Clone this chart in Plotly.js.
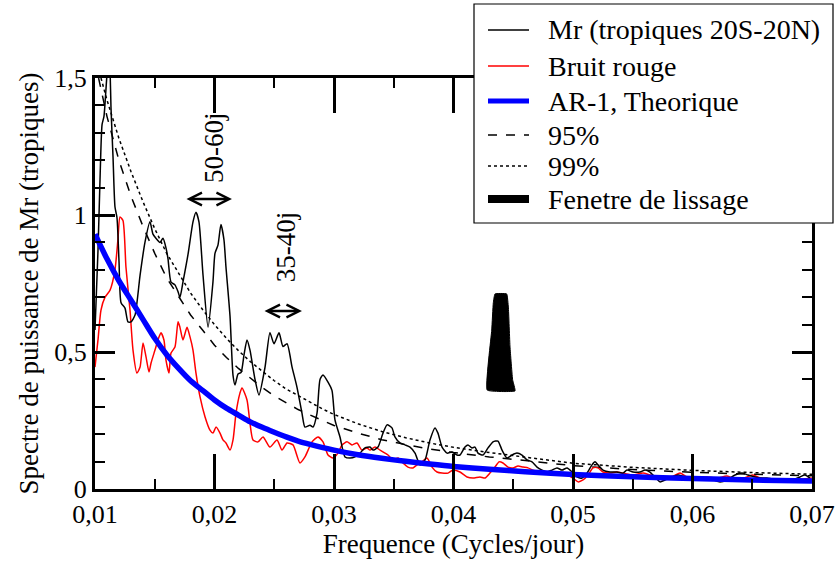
<!DOCTYPE html>
<html><head><meta charset="utf-8">
<script src="https://cdn.plot.ly/plotly-3.0.1.min.js"></script>
<style>html,body{margin:0;padding:0;background:#fff}#c{width:838px;height:564px}</style>
</head><body><div id="c"></div>
<script>
// Mr (tropiques 20S-20N)
const freqMr = [
0.01000,0.01025,0.01042,0.01059,0.01075,0.01092,0.01109,0.01117,0.01126,0.01134,
0.01151,0.01167,0.01184,0.01201,0.01218,0.01251,0.01276,0.01301,0.01335,0.01377,
0.01418,0.01460,0.01485,0.01510,0.01544,0.01569,0.01594,0.01611,0.01636,0.01669,
0.01695,0.01711,0.01736,0.01778,0.01820,0.01845,0.01870,0.01904,0.01946,0.01987,
0.02004,0.02029,0.02054,0.02079,0.02096,0.02130,0.02155,0.02172,0.02197,0.02222,
0.02247,0.02272,0.02297,0.02339,0.02372,0.02423,0.02464,0.02498,0.02540,0.02573,
0.02607,0.02649,0.02690,0.02732,0.02757,0.02799,0.02824,0.02858,0.02883,0.02908,
0.02950,0.02983,0.03008,0.03050,0.03092,0.03134,0.03176,0.03218,0.03259,0.03301,
0.03326,0.03368,0.03410,0.03444,0.03485,0.03510,0.03552,0.03594,0.03636,0.03678,
0.03720,0.03762,0.03803,0.03845,0.03870,0.03904,0.03946,0.03987,0.04029,0.04054,
0.04096,0.04121,0.04155,0.04180,0.04205,0.04247,0.04289,0.04331,0.04372,0.04406,
0.04448,0.04490,0.04531,0.04573,0.04615,0.04657,0.04699,0.04741,0.04782,0.04824,
0.04866,0.04908,0.04950,0.04992,0.05033,0.05075,0.05117,0.05159,0.05184,0.05209,
0.05251,0.05310,0.05368,0.05418,0.05452,0.05502,0.05561,0.05603,0.05644,0.05686,
0.05728,0.05770,0.05828,0.05879,0.05937,0.05996,0.06063,0.06121,0.06172,0.06230,
0.06289,0.06356,0.06414,0.06464,0.06523,0.06565,0.06623,0.06674,0.06732,0.06791,
0.06841,0.06900,0.06941,0.06983];
const mr = [
0.58,0.87,1.13,1.33,1.36,1.46,1.57,1.60,1.53,1.39,
1.21,1.03,0.99,0.83,0.68,0.66,0.61,0.61,0.635,0.78,
0.90,0.975,0.93,0.915,0.90,0.915,0.88,0.84,0.755,0.745,
0.72,0.70,0.755,0.855,0.975,1.01,0.975,0.78,0.59,0.755,
0.86,0.89,0.965,0.91,0.81,0.63,0.415,0.38,0.42,0.425,
0.49,0.544,0.507,0.40,0.343,0.445,0.57,0.53,0.57,0.52,
0.53,0.445,0.372,0.277,0.226,0.233,0.226,0.277,0.40,0.416,
0.39,0.36,0.252,0.19,0.117,0.113,0.117,0.131,0.15,0.153,
0.142,0.153,0.204,0.234,0.223,0.19,0.168,0.161,0.153,0.131,
0.088,0.106,0.179,0.223,0.204,0.153,0.131,0.135,0.124,0.124,
0.153,0.161,0.15,0.153,0.131,0.124,0.15,0.172,0.175,0.142,
0.113,0.124,0.131,0.124,0.106,0.099,0.080,0.069,0.062,0.069,
0.077,0.069,0.077,0.062,0.044,0.040,0.058,0.088,0.099,0.088,
0.069,0.062,0.062,0.058,0.069,0.062,0.062,0.069,0.062,0.044,
0.026,0.033,0.044,0.051,0.044,0.044,0.040,0.040,0.033,0.026,
0.033,0.051,0.058,0.051,0.044,0.040,0.040,0.036,0.036,0.036,
0.033,0.044,0.051,0.040];

// Bruit rouge
const freqRed = [
0.01000,0.01025,0.01050,0.01084,0.01126,0.01167,0.01192,0.01209,0.01234,0.01259,
0.01293,0.01318,0.01351,0.01377,0.01402,0.01427,0.01452,0.01469,0.01502,0.01527,
0.01552,0.01577,0.01594,0.01619,0.01636,0.01669,0.01695,0.01711,0.01736,0.01770,
0.01795,0.01820,0.01845,0.01879,0.01921,0.01962,0.01987,0.02013,0.02046,0.02071,
0.02096,0.02130,0.02155,0.02180,0.02213,0.02230,0.02272,0.02297,0.02322,0.02364,
0.02406,0.02464,0.02523,0.02565,0.02607,0.02657,0.02715,0.02757,0.02816,0.02866,
0.02908,0.02950,0.02992,0.03033,0.03067,0.03109,0.03151,0.03192,0.03234,0.03276,
0.03301,0.03343,0.03385,0.03427,0.03452,0.03494,0.03536,0.03577,0.03619,0.03661,
0.03695,0.03736,0.03778,0.03820,0.03862,0.03904,0.03954,0.03996,0.04054,0.04113,
0.04163,0.04222,0.04264,0.04305,0.04347,0.04381,0.04414,0.04456,0.04498,0.04540,
0.04582,0.04623,0.04665,0.04724,0.04782,0.04833,0.04891,0.04950,0.05000,0.05042,
0.05084,0.05126,0.05167,0.05209,0.05251,0.05310,0.05368,0.05418,0.05502,0.05586,
0.05644,0.05728,0.05837,0.05895,0.05954,0.06038,0.06121,0.06205,0.06289,0.06372,
0.06456,0.06506,0.06565,0.06649,0.06757,0.06841,0.06925,0.07000];
const red = [
0.445,0.544,0.653,0.70,0.726,0.80,0.91,0.993,0.98,0.81,
0.653,0.507,0.423,0.445,0.533,0.482,0.427,0.46,0.507,0.544,
0.57,0.544,0.47,0.423,0.496,0.518,0.61,0.59,0.544,0.59,
0.555,0.507,0.423,0.336,0.263,0.215,0.204,0.226,0.204,0.179,
0.168,0.142,0.179,0.277,0.35,0.369,0.325,0.24,0.179,0.172,
0.19,0.153,0.179,0.142,0.168,0.161,0.095,0.117,0.172,0.19,
0.172,0.124,0.113,0.131,0.161,0.172,0.161,0.168,0.142,0.15,
0.142,0.153,0.142,0.131,0.124,0.106,0.113,0.095,0.08,0.077,
0.088,0.099,0.113,0.08,0.062,0.058,0.058,0.069,0.062,0.044,
0.04,0.044,0.04,0.058,0.08,0.099,0.095,0.08,0.077,0.084,
0.08,0.077,0.069,0.062,0.062,0.062,0.058,0.051,0.04,0.026,
0.033,0.051,0.077,0.077,0.062,0.058,0.062,0.058,0.051,0.058,
0.051,0.044,0.047,0.058,0.044,0.04,0.044,0.04,0.047,0.033,
0.044,0.051,0.04,0.033,0.033,0.036,0.036,0.04];

// AR-1, Theorique
const freqAR = [0.010,0.011,0.012,0.013,0.014,0.015,0.016,0.017,0.018,0.019,0.020,0.021,0.022,0.023,0.024,0.025,0.026,0.027,0.028,0.030,0.032,0.034,0.036,0.038,0.040,0.043,0.046,0.050,0.055,0.060,0.065,0.070];
const ar1 = [0.93,0.84,0.76,0.69,0.62,0.55,0.49,0.44,0.395,0.36,0.325,0.295,0.27,0.245,0.225,0.207,0.19,0.175,0.163,0.142,0.125,0.112,0.101,0.091,0.082,0.072,0.063,0.053,0.045,0.038,0.033,0.029];

// 95% and 99% levels
const freq95 = [0.0103,0.011,0.012,0.013,0.014,0.015,0.016,0.017,0.018,0.019,0.020,0.021,0.022,0.023,0.024,0.025,0.026,0.027,0.028,0.029,0.030,0.032,0.034,0.036,0.038,0.040,0.043,0.046,0.050,0.055,0.060,0.065,0.070];
const sig95 = [1.50,1.36,1.20,1.07,0.96,0.86,0.77,0.70,0.635,0.58,0.525,0.48,0.44,0.405,0.37,0.34,0.315,0.29,0.27,0.25,0.232,0.204,0.18,0.162,0.146,0.133,0.117,0.104,0.085,0.071,0.061,0.054,0.048];
const freq99 = [0.0105,0.011,0.012,0.013,0.014,0.015,0.016,0.017,0.018,0.019,0.020,0.021,0.022,0.023,0.024,0.025,0.026,0.027,0.028,0.029,0.030,0.032,0.034,0.036,0.038,0.040,0.043,0.046,0.050,0.055,0.060,0.065,0.070];
const sig99 = [1.50,1.42,1.28,1.16,1.05,0.95,0.86,0.785,0.715,0.655,0.60,0.55,0.505,0.465,0.43,0.395,0.365,0.34,0.315,0.293,0.272,0.238,0.21,0.187,0.168,0.152,0.133,0.117,0.094,0.079,0.068,0.060,0.054];

// Fenetre de lissage (window outline)
const winX = [0.04282,0.04320,0.04333,0.04347,0.04445,0.04459,0.04473,0.04495,0.04515,0.04282];
const winY = [0.361,0.580,0.679,0.712,0.712,0.664,0.518,0.398,0.358,0.361];

const legendLabels = ['Mr (tropiques 20S-20N)','Bruit rouge','AR-1, Theorique','95%','99%','Fenetre de lissage'];
const periodLabels = ['50-60j','35-40j'];
const periodBands = [[0.01753,0.02146,1.058],[0.02406,0.02732,0.65]];
const periodLabelPos = [[0.01996,1.245],[0.0260,0.883]];

const FONT = 'Liberation Serif';
const sm = {shape:'spline', smoothing:0.6};

const traces = [
  {x:freq99, y:sig99, mode:'lines', line:{color:'black', width:1.5, dash:'dot'}, hoverinfo:'skip'},
  {x:freq95, y:sig95, mode:'lines', line:{color:'black', width:1.5, dash:'dash'}, hoverinfo:'skip'},
  {x:freqRed, y:red, mode:'lines', line:Object.assign({color:'#ff0000', width:1.5}, sm)},
  {x:freqMr, y:mr, mode:'lines', line:Object.assign({color:'black', width:1.5}, sm)},
  {x:freqAR, y:ar1, mode:'lines', line:{color:'#0000ff', width:5.5, shape:'spline', smoothing:0.8}},
  {x:winX, y:winY, mode:'lines', fill:'toself', fillcolor:'black', line:{color:'black', width:1, shape:'spline', smoothing:0.3}}
];
traces.forEach(t => t.showlegend = false);

// legend drawn as box + samples + texts (pixel rows converted to paper coords)
const L = 95, T = 78, W = 717, H = 411;
const px = v => (v - L) / W, py = v => (T + H - v) / H;
const rowY = [30, 66, 101, 135, 166, 199];
const sampleStyles = [
  {color:'black', width:1.5},
  {color:'#ff0000', width:1.5},
  {color:'#0000ff', width:5},
  {color:'black', width:1.5, dash:'dash'},
  {color:'black', width:1.5, dash:'dot'},
  {color:'black', width:8}
];
const shapes = [{type:'rect', xref:'paper', yref:'paper', x0:px(474), x1:px(833), y0:py(223), y1:py(4),
  line:{color:'black', width:1.2}, fillcolor:'white', layer:'above'}];
const annotations = [];
legendLabels.forEach((lab, i) => {
  shapes.push({type:'line', xref:'paper', yref:'paper', x0:px(488), x1:px(529), y0:py(rowY[i]), y1:py(rowY[i]), line:sampleStyles[i], layer:'above'});
  annotations.push({xref:'paper', yref:'paper', x:px(546), y:py(rowY[i]), xanchor:'left', yanchor:'middle', text:lab, showarrow:false, font:{family:FONT, size:28, color:'black'}});
});
periodBands.forEach((b, i) => {
  annotations.push({x:b[1], y:b[2], ax:b[0], ay:b[2], axref:'x', ayref:'y', xref:'x', yref:'y', text:'', showarrow:true,
    arrowhead:5, startarrowhead:5, arrowside:'end+start', arrowsize:1, startarrowsize:1, arrowwidth:2.5, arrowcolor:'black', standoff:0, startstandoff:0});
  annotations.push({x:periodLabelPos[i][0], y:periodLabelPos[i][1], xref:'x', yref:'y', text:periodLabels[i], textangle:-90, showarrow:false,
    font:{family:FONT, size:27, color:'black'}});
});

function axisBase() {
  return {ticks:'inside', tickwidth:3, tickcolor:'black', showline:true, linewidth:3, linecolor:'black',
    mirror:'ticks', showgrid:false, zeroline:false, tickfont:{family:FONT, size:26, color:'black'}};
}

const layout = {
  width:838, height:564, margin:{l:95, r:26, t:78, b:75},
  paper_bgcolor:'white', plot_bgcolor:'white', separators:', ',
  font:{family:FONT, size:26, color:'black'}, showlegend:false,
  xaxis:Object.assign(axisBase(), {range:[0.01,0.07], tick0:0, dtick:0.01, ticklen:35,
    minor:{ticks:'inside', ticklen:10, tickwidth:2, tickcolor:'black', dtick:0.005, tick0:0, showgrid:false},
    title:{text:'Frequence (Cycles/jour)', font:{family:FONT, size:27, color:'black'}, standoff:4}}),
  yaxis:Object.assign(axisBase(), {range:[0,1.5], tick0:0, dtick:0.5, ticklen:20,
    minor:{ticks:'inside', ticklen:10, tickwidth:2, tickcolor:'black', dtick:0.1, tick0:0, showgrid:false},
    title:{text:'Spectre de puissance de Mr (tropiques)', font:{family:FONT, size:27, color:'black'}, standoff:8}}),
  shapes:shapes, annotations:annotations
};
Plotly.newPlot('c', traces, layout, {staticPlot:true, displayModeBar:false});
</script></body></html>
